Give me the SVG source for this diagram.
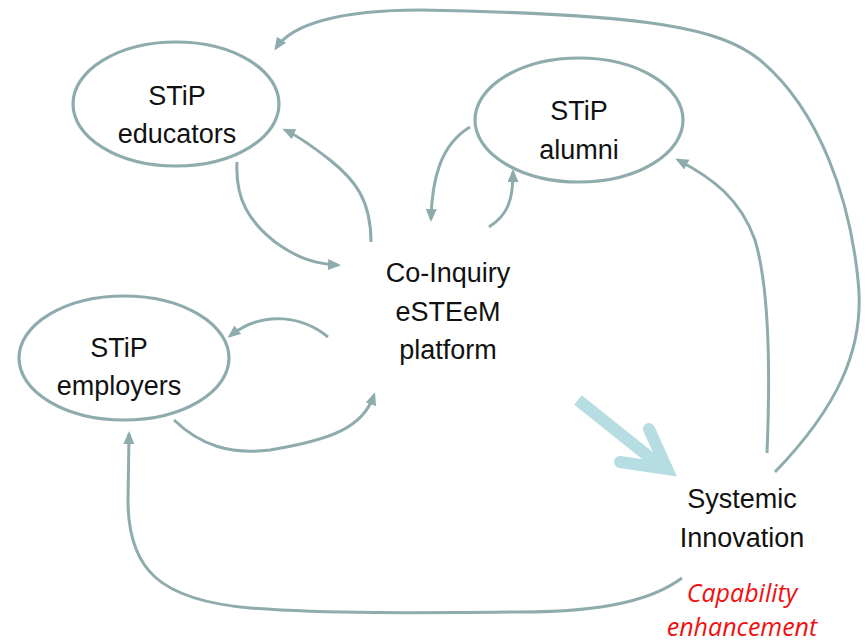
<svg xmlns="http://www.w3.org/2000/svg" width="865" height="643" viewBox="0 0 865 643">
<defs>
<style>
.node{fill:none;stroke:#8eabae;stroke-width:3.2}
.lbl{font-family:"Liberation Sans",Arial,sans-serif;font-size:27px;fill:#111;text-anchor:middle}
.red{font-family:"Open Sans","Liberation Sans",sans-serif;font-style:italic;font-size:25px;fill:#f01010;text-anchor:middle}
.con{fill:none;stroke:#8eabae;stroke-width:3;marker-end:url(#ah)}
</style>
<marker id="ah" markerUnits="userSpaceOnUse" markerWidth="14" markerHeight="12" refX="10" refY="5.5" orient="auto">
<path d="M0,0 L13,5.5 L0,11 Z" fill="#8eabae"/>
</marker>
</defs>
<rect width="865" height="643" fill="#fff"/>
<g id="connectors">
<path class="con" d="M775,472 C835,410 866,350 858,280 C850,200 820,110 760,60 C720,28 650,14 420,10 C340,10 292,24 276,48"/>
<path class="con" d="M767,453 C770,380 770,290 755,240 C740,198 712,178 678,160"/>
<path class="con" d="M237,162 C235,200 250,222 275,242 C297,258 315,264 338,265"/>
<path class="con" d="M371,242 C371,200 355,180 330,160 C312,146 298,136 285,130"/>
<path class="con" d="M470,127 C440,145 432,180 431,219"/>
<path class="con" d="M489,227 C508,215 513,200 513,172"/>
<path class="con" d="M328,337 C305,318 265,308 230,336"/>
<path class="con" d="M174,420 C200,445 230,455 270,450 C330,440 363,428 374,395"/>
<path class="con" d="M682,578 C655,598 610,612 520,612 C420,613 330,614 250,608 C160,600 128,570 128,500 L129,434"/>
<g id="big-arrow" fill="none" stroke="#b6dde1" stroke-width="12">
<path d="M578,400 L658,464" stroke-linecap="butt"/>
<path d="M649,429 L667,469 L620,462" stroke-linecap="round" stroke-linejoin="miter"/>
</g>
</g>
<g id="educators">
<ellipse class="node" cx="176" cy="104" rx="103" ry="62"/>
<text class="lbl" x="177" y="105">STiP</text>
<text class="lbl" x="177" y="143">educators</text>
</g>
<g id="alumni">
<ellipse class="node" cx="579" cy="120" rx="104" ry="62"/>
<text class="lbl" x="579" y="120">STiP</text>
<text class="lbl" x="579" y="159">alumni</text>
</g>
<g id="employers">
<ellipse class="node" cx="124" cy="358" rx="105" ry="62"/>
<text class="lbl" x="119" y="357">STiP</text>
<text class="lbl" x="119" y="395">employers</text>
</g>
<g id="platform">
<text class="lbl" x="448" y="282">Co-Inquiry</text>
<text class="lbl" x="448" y="321">eSTEeM</text>
<text class="lbl" x="448" y="359">platform</text>
</g>
<g id="systemic">
<text class="lbl" x="742" y="508">Systemic</text>
<text class="lbl" x="742" y="547">Innovation</text>
<text class="red" x="742" y="602">Capability</text>
<text class="red" x="742" y="636">enhancement</text>
</g>
</svg>
